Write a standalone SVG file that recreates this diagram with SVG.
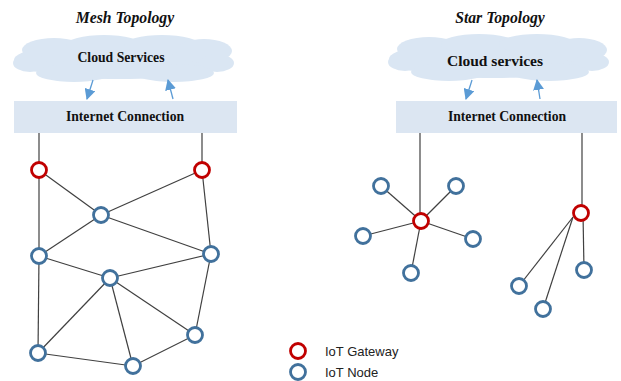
<svg xmlns="http://www.w3.org/2000/svg" width="621" height="381" viewBox="0 0 621 381">
<style>
.title{font-family:"Liberation Serif",serif;font-weight:bold;font-style:italic;font-size:15.7px;text-anchor:middle;fill:#111}
.lbl{font-family:"Liberation Serif",serif;font-weight:bold;font-size:13.7px;text-anchor:middle;fill:#111}
.cloud{fill:#dae6f3}
.box{fill:#dce6f2}
.gw{fill:#fff;stroke:#c00000;stroke-width:2.8}
.nd{fill:#fff;stroke:#41719c;stroke-width:2.8}
.ln{stroke:#404040;stroke-width:1.2;fill:none}
.arr{stroke:#5b9bd5;stroke-width:1.3;fill:none;marker-end:url(#ah)}
.leg{font-family:"Liberation Sans",Arial,sans-serif;font-size:13px;fill:#222}
</style>
<defs>
<marker id="ah" viewBox="0 0 10 10" refX="9" refY="5" markerWidth="11" markerHeight="11" markerUnits="userSpaceOnUse" orient="auto">
<path d="M0,0 L10,5 L0,10 z" fill="#5b9bd5"/>
</marker>
<g id="cloudshape">
<ellipse cx="115" cy="60" rx="105" ry="19"/>
<ellipse cx="50" cy="50" rx="32" ry="12"/>
<ellipse cx="100" cy="45" rx="38" ry="10"/>
<ellipse cx="158" cy="45" rx="38" ry="10"/>
<ellipse cx="200" cy="51" rx="28" ry="12"/>
<ellipse cx="26" cy="63" rx="17" ry="9"/>
<ellipse cx="213" cy="63" rx="17" ry="9"/>
<ellipse cx="70" cy="73" rx="38" ry="9"/>
<ellipse cx="170" cy="73" rx="40" ry="9"/>
</g>
</defs>

<text class="title" x="125" y="23">Mesh Topology</text>
<text class="title" x="500" y="23">Star Topology</text>

<g id="cloud-mesh">
<use href="#cloudshape" class="cloud" x="4" y="0"/>
<text class="lbl" x="121" y="62">Cloud Services</text>
</g>
<g id="internet-mesh">
<rect class="box" x="14" y="101" width="223" height="32"/>
<text class="lbl" x="125" y="121">Internet Connection</text>
</g>
<g id="cloud-star">
<use href="#cloudshape" class="cloud" x="379" y="-1"/>
<text class="lbl" x="495" y="66" style="font-size:15.5px">Cloud services</text>
</g>
<g id="internet-star">
<rect class="box" x="396" y="101" width="221" height="32"/>
<text class="lbl" x="507" y="121">Internet Connection</text>
</g>

<g id="connectors">
<path class="arr" d="M93,80 L87,99"/>
<path class="arr" d="M173,99 L168,80"/>
<path class="arr" d="M472,80 L466,99"/>
<path class="arr" d="M540,99 L537,80"/>
<!-- mesh -->
<path class="ln" d="M39,133 V170"/>
<path class="ln" d="M202,133 V170"/>
<path class="ln" d="M39,170 L101,215"/>
<path class="ln" d="M39,170 L39,256"/>
<path class="ln" d="M202,170 L101,215"/>
<path class="ln" d="M202,170 L211,254"/>
<path class="ln" d="M101,215 L39,256"/>
<path class="ln" d="M101,215 L211,254"/>
<path class="ln" d="M39,256 L110,278"/>
<path class="ln" d="M39,256 L38,353"/>
<path class="ln" d="M110,278 L211,254"/>
<path class="ln" d="M110,278 L38,353"/>
<path class="ln" d="M110,278 L133,366"/>
<path class="ln" d="M110,278 L195,335"/>
<path class="ln" d="M211,254 L195,335"/>
<path class="ln" d="M38,353 L133,366"/>
<path class="ln" d="M133,366 L195,335"/>
<!-- star 1 -->
<path class="ln" d="M420,133 V221"/>
<path class="ln" d="M421,221 L381,186"/>
<path class="ln" d="M421,221 L456,186"/>
<path class="ln" d="M421,221 L363,236"/>
<path class="ln" d="M421,221 L473,239"/>
<path class="ln" d="M421,221 L411,273"/>
<!-- star 2 -->
<path class="ln" d="M582,133 V213"/>
<path class="ln" d="M573,217 L519,286"/>
<path class="ln" d="M573,217 L543,309"/>
<path class="ln" d="M583,213 L584,270"/>
</g>

<g id="mesh-gw1"><circle class="gw" cx="39" cy="170" r="7.5"/></g>
<g id="mesh-gw2"><circle class="gw" cx="202" cy="170" r="7.5"/></g>
<g id="mesh-n1"><circle class="nd" cx="101" cy="215" r="7.5"/></g>
<g id="mesh-n2"><circle class="nd" cx="39" cy="256" r="7.5"/></g>
<g id="mesh-n3"><circle class="nd" cx="211" cy="254" r="7.5"/></g>
<g id="mesh-n4"><circle class="nd" cx="110" cy="278" r="7.5"/></g>
<g id="mesh-n5"><circle class="nd" cx="195" cy="335" r="7.5"/></g>
<g id="mesh-n6"><circle class="nd" cx="38" cy="353" r="7.5"/></g>
<g id="mesh-n7"><circle class="nd" cx="133" cy="366" r="7.5"/></g>

<g id="star-gw1"><circle class="gw" cx="421" cy="221" r="7.5"/></g>
<g id="star-n1"><circle class="nd" cx="381" cy="186" r="7.5"/></g>
<g id="star-n2"><circle class="nd" cx="456" cy="186" r="7.5"/></g>
<g id="star-n3"><circle class="nd" cx="363" cy="236" r="7.5"/></g>
<g id="star-n4"><circle class="nd" cx="473" cy="239" r="7.5"/></g>
<g id="star-n5"><circle class="nd" cx="411" cy="273" r="7.5"/></g>
<g id="star-gw2"><circle class="gw" cx="581" cy="213" r="7.5"/></g>
<g id="star-n6"><circle class="nd" cx="519" cy="286" r="7.5"/></g>
<g id="star-n7"><circle class="nd" cx="543" cy="309" r="7.5"/></g>
<g id="star-n8"><circle class="nd" cx="584" cy="270" r="7.5"/></g>

<g id="legend">
<circle class="gw" cx="298" cy="351" r="7.5"/>
<text class="leg" x="325" y="356">IoT Gateway</text>
<circle class="nd" cx="298" cy="372" r="7.5"/>
<text class="leg" x="325" y="377">IoT Node</text>
</g>
</svg>
